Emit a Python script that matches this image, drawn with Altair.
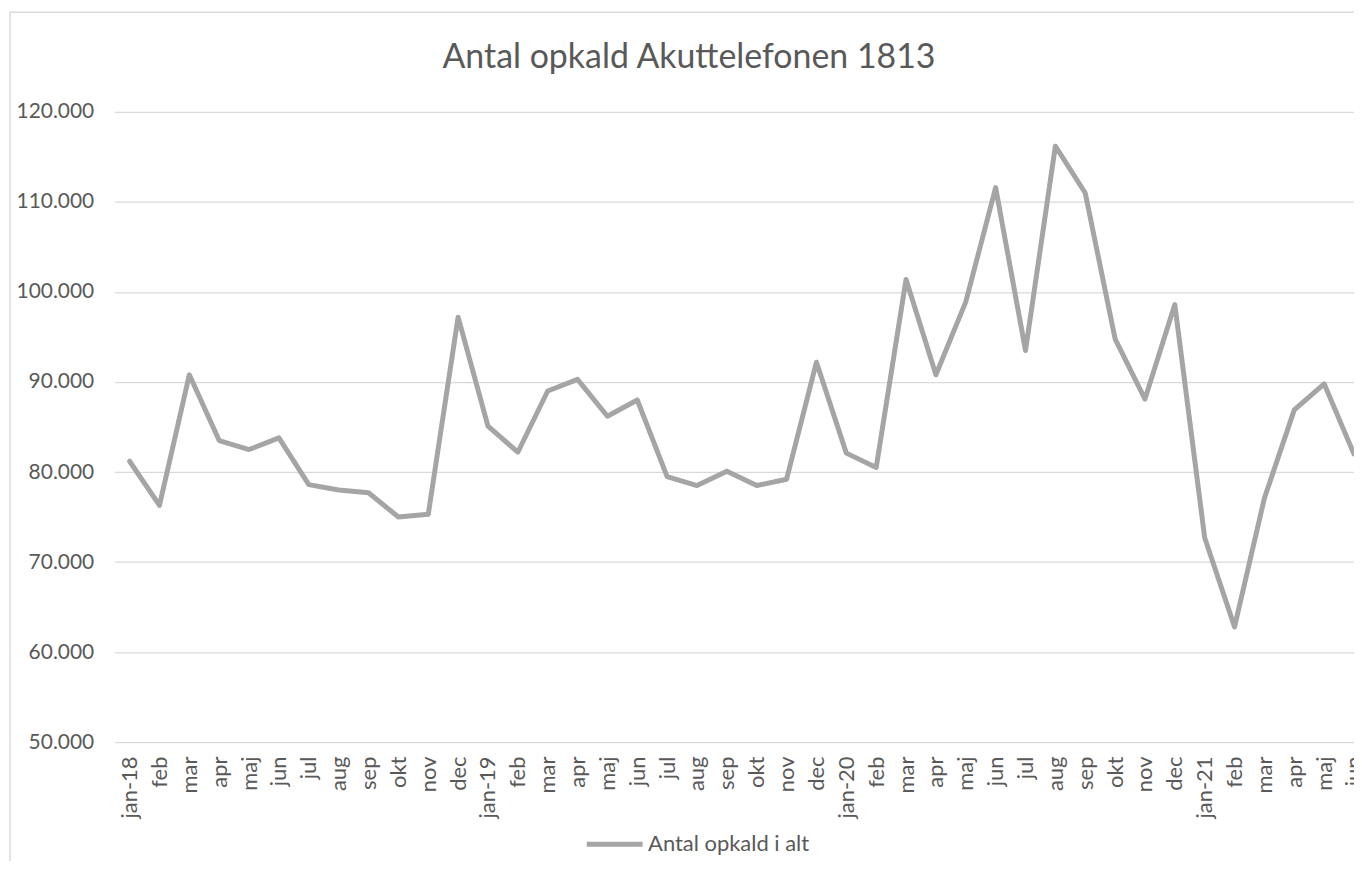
import altair as alt
import pandas as pd

months = ["jan", "feb", "mar", "apr", "maj", "jun", "jul", "aug", "sep", "okt", "nov", "dec"]
years = ["18", "19", "20", "21"]
n_points = 42

values = [
    81200, 76300, 90800, 83500, 82500, 83800, 78600, 78000, 77700, 75000, 75300, 97200,
    85100, 82200, 89000, 90300, 86200, 88000, 79500, 78500, 80100, 78500, 79200, 92200,
    82100, 80500, 101400, 90800, 98900, 111600, 93500, 116200, 111000, 94800, 88100, 98600,
    72700, 62800, 77100, 86900, 89800, 82000,
]

series_name = "Antal opkald i alt"
title_text = "Antal opkald Akuttelefonen 1813"
y_ticks = [50000, 60000, 70000, 80000, 90000, 100000, 110000, 120000]

keys = []
for i in range(n_points):
    keys.append(f"{months[i % 12]}-{years[i // 12]}")

df = pd.DataFrame({"key": keys, "value": values, "series": [series_name] * n_points})

FONT = "Lato"
TXT = "#595959"
GRID = "#D9D9D9"
LINE = "#A5A5A5"

line = alt.Chart(df).mark_line(strokeWidth=5, strokeJoin="round", strokeCap="round").encode(
    x=alt.X(
        "key:O",
        sort=keys,
        scale=alt.Scale(type="point", padding=0.25, align=1),
        axis=alt.Axis(
            title=None,
            labelAngle=-90,
            labelPadding=14,
            labelFontSize=22,
            domain=False,
            ticks=False,
            grid=False,
            labelExpr="indexof(datum.value, 'jan') == 0 ? datum.value : slice(datum.value, 0, 3)",
        ),
    ),
    y=alt.Y(
        "value:Q",
        scale=alt.Scale(domain=[50000, 120000], nice=False, zero=False),
        axis=alt.Axis(
            title=None,
            values=y_ticks,
            domain=False,
            ticks=False,
            labelPadding=21,
            gridColor=GRID,
            gridWidth=1.3,
            labelExpr="replace(format(datum.value, ','), ',', '.')",
        ),
    ),
    color=alt.Color(
        "series:N",
        scale=alt.Scale(range=[LINE]),
        legend=alt.Legend(
            title=None,
            orient="none",
            legendX=471,
            legendY=704,
            symbolType="stroke",
            symbolSize=3136,
            symbolStrokeWidth=5,
            labelFontSize=22,
            labelFont=FONT,
            labelColor=TXT,
            labelOffset=3,
            labelLimit=500,
            padding=0,
        ),
    ),
)

frame = alt.Data(values=[{"a": 0}])
top_rule = alt.Chart(frame).mark_rule(color=GRID, strokeWidth=1.5).encode(
    x=alt.value(-105), x2=alt.value(1260), y=alt.value(-100)
)
left_rule = alt.Chart(frame).mark_rule(color=GRID, strokeWidth=1.5).encode(
    x=alt.value(-105), y=alt.value(-100), y2=alt.value(760)
)
title_mark = alt.Chart(frame).mark_text(
    text=title_text,
    font=FONT,
    fontSize=34,
    color=TXT,
    align="center",
    baseline="alphabetic",
).encode(x=alt.value(576), y=alt.value(-44))

chart = (
    alt.layer(top_rule, left_rule, title_mark, line)
    .properties(
        width=1243,
        height=632,
        autosize=alt.AutoSizeParams(type="none"),
        padding={"left": 107, "top": 103, "right": 0, "bottom": 118},
    )
    .configure_view(stroke=None)
    .configure_axis(labelFont=FONT, labelFontSize=21, labelColor=TXT)
)

chart.save("out.html", embed_options={"renderer": "svg", "actions": False})
